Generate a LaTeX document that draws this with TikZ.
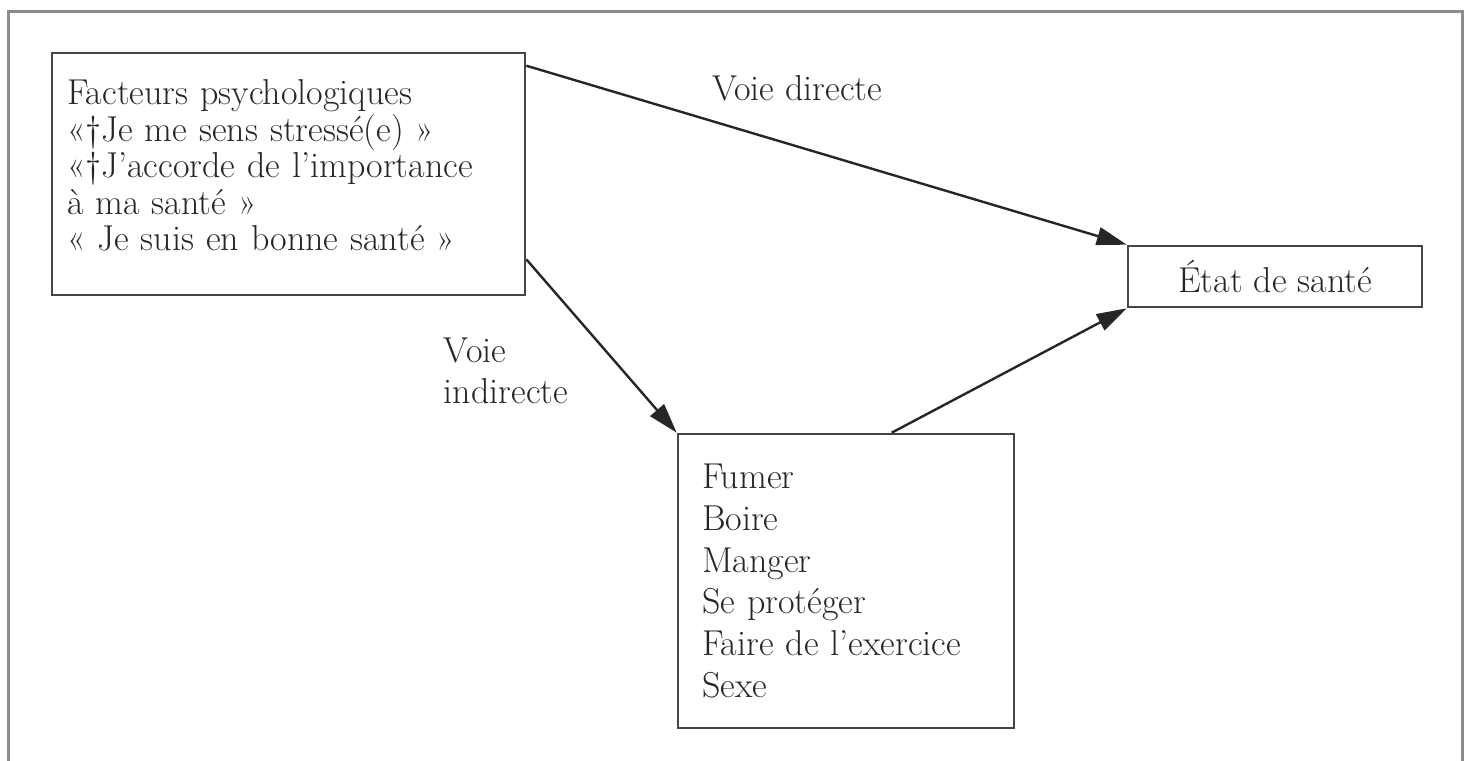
\documentclass[tikz,border=0pt]{standalone}
\usetikzlibrary{arrows.meta,calc}
\definecolor{ink}{HTML}{262626}
\definecolor{boxline}{HTML}{454545}
\definecolor{framecol}{HTML}{8C8C8C}
\begin{document}
\begin{tikzpicture}[x=1pt,y=-1pt,
  box/.style={draw=boxline,line width=2.6pt,rectangle,inner sep=0pt,text=ink},
  lbl/.style={inner sep=0pt,text=ink,font=\fontsize{36}{41}\selectfont},
  conn/.style={draw=ink,line width=2.4pt,-{Triangle[length=30pt,width=18pt]}}]
\useasboundingbox (0,0) rectangle (1469,760);
% outer frame (open at the bottom)
\draw[framecol,line width=3pt] (8,765) -- (8,12) -- (1462,12) -- (1462,765);
% boxes
\node[box,minimum width=473pt,minimum height=242pt,text width=443pt,align=left,
      font=\fontsize{36}{36.5}\selectfont] (psy) at (288.5,174)
  {Facteurs psychologiques\\
   «†Je me sens stressé(e) »\\
   «†J’accorde de l’importance\\
   à ma santé »\\
   « Je suis en bonne santé »\rule[-17pt]{0pt}{0pt}};
\node[box,minimum width=294pt,minimum height=61pt,
      font=\fontsize{36}{36.5}\selectfont] (etat) at (1275,276.5) {État de santé};
\node[box,minimum width=336pt,minimum height=294pt,text width=288pt,align=left,
      font=\fontsize{36}{41.8}\selectfont] (beh) at (846,581)
  {Fumer\\
   Boire\\
   Manger\\
   Se protéger\\
   Faire de l’exercice\\
   Sexe};
% labels
\node[lbl,anchor=base west] (ld) at (712,100) {Voie directe};
\node[lbl,align=left] (li) at (506,371) {Voie\\indirecte};
% connectors
\draw[conn] ($(psy.north east)+(0,14)$) -- (etat.north west);
\draw[conn] ($(psy.south east)+(0,-37)$) -- (beh.north west);
\draw[conn] ($(beh.north west)+(215,0)$) -- (etat.south west);
\end{tikzpicture}
\end{document}
